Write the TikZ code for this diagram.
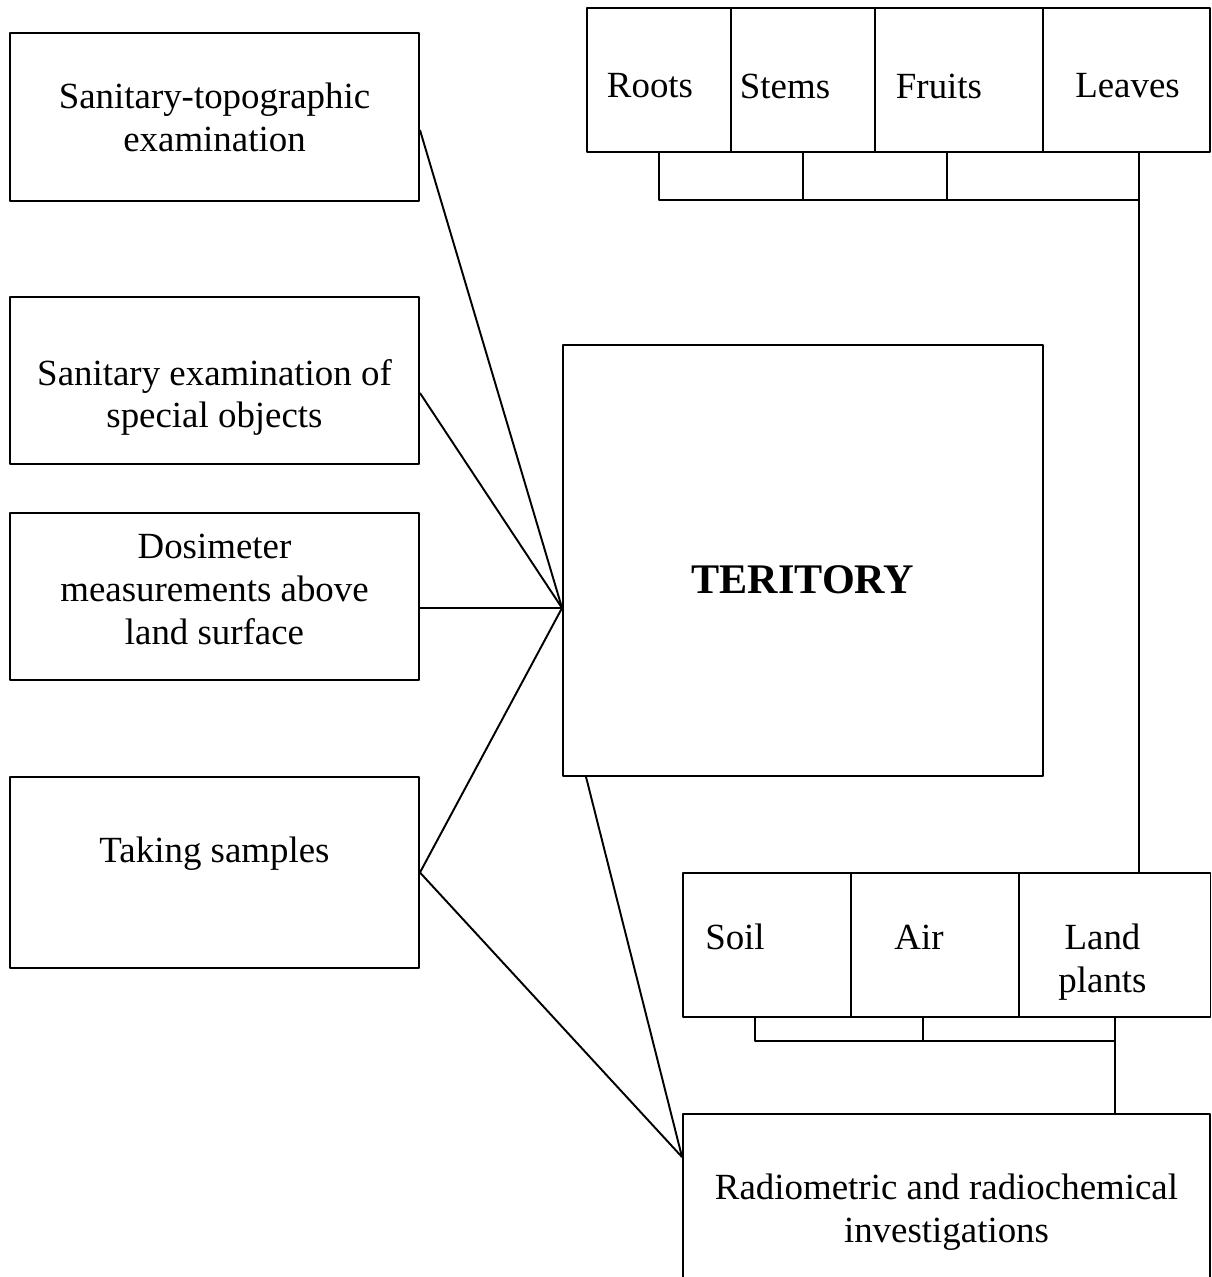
\documentclass[tikz,border=0pt]{standalone}
\usepackage{fontspec}
\setmainfont{Liberation Serif}
\begin{document}
\begin{tikzpicture}[x=0.02cm, y=-0.02cm, font=\fontsize{21}{24.4}\selectfont, line join=round, line width=1.1pt]
            \def\pxu{0.02cm}
            \tikzset{box/.style={draw, inner sep=0pt, align=center},
                     lbl/.style={inner sep=0pt, align=center}}
            \useasboundingbox (0,0) rectangle (1211,1277);
            \clip (0,0) rectangle (1211,1277);
            % left column
            \node[box, minimum width=409*\pxu, minimum height=168*\pxu] (sanitopo) at (214.5,117) {Sanitary-topographic\\examination};
            \node[box, minimum width=409*\pxu, minimum height=167*\pxu, label={[lbl, yshift=-17*\pxu]center:Sanitary examination of\\special objects}] (sanspec) at (214.5,380.5) {};
            \node[box, minimum width=409*\pxu, minimum height=167*\pxu, label={[lbl, yshift=7*\pxu]center:Dosimeter\\measurements above\\land surface}] (dosi) at (214.5,596.5) {};
            \node[box, minimum width=409*\pxu, minimum height=191*\pxu, label={[lbl, yshift=19*\pxu]center:Taking samples}] (taking) at (214.5,872.5) {};
            % centre
            \node[box, minimum width=480*\pxu, minimum height=431*\pxu, label={[lbl, yshift=-19*\pxu, font=\fontsize{24}{28}\selectfont\bfseries]center:TERITORY}] (teritory) at (803,560.5) {};
            % top row
            \node[box, minimum width=144*\pxu, minimum height=144*\pxu, label={[lbl, xshift=-9*\pxu, yshift=-6*\pxu]center:Roots}] (roots) at (659,80) {};
            \node[box, minimum width=144*\pxu, minimum height=144*\pxu, label={[lbl, xshift=-18*\pxu, yshift=-6*\pxu]center:Stems}] (stems) at (803,80) {};
            \node[box, minimum width=168*\pxu, minimum height=144*\pxu, label={[lbl, xshift=-20*\pxu, yshift=-6*\pxu]center:Fruits}] (fruits) at (959,80) {};
            \node[box, minimum width=167*\pxu, minimum height=144*\pxu, label={[lbl, xshift=1*\pxu, yshift=-6*\pxu]center:Leaves}] (leaves) at (1126.5,80) {};
            % bottom row
            \node[box, minimum width=168*\pxu, minimum height=144*\pxu, label={[lbl, xshift=-32*\pxu, yshift=8*\pxu]center:Soil}] (soil) at (767,945) {};
            \node[box, minimum width=168*\pxu, minimum height=144*\pxu, label={[lbl, xshift=-16*\pxu, yshift=8*\pxu]center:Air}] (air) at (935,945) {};
            \node[box, minimum width=191*\pxu, minimum height=144*\pxu, label={[lbl, xshift=-12.5*\pxu, yshift=-17*\pxu]center:Land\\plants}] (land) at (1115,945) {};
            \node[box, minimum width=527*\pxu, minimum height=197*\pxu] (radio) at (946.5,1212.5) {Radiometric and radiochemical\\investigations};
            % fan lines
            \coordinate (hub) at ([yshift=-47.5*\pxu]teritory.west);
            \coordinate (rin) at ([yshift=-44*\pxu]radio.north west);
            \draw ([yshift=-13*\pxu]sanitopo.east) -- (hub);
            \draw ([yshift=-12.5*\pxu]sanspec.east) -- (hub);
            \draw (dosi.east |- hub) -- (hub);
            \draw (hub) -- (taking.east) -- (rin);
            \draw ([xshift=24*\pxu]teritory.south west) -- (rin);
            % buses
            \coordinate (topbus) at (0,200);
            \coordinate (botbus) at (0,1041);
            \coordinate (fruitsdrop) at ([xshift=-12*\pxu]fruits.south);
            \coordinate (leavesdrop) at ([xshift=12.5*\pxu]leaves.south);
            \coordinate (soildrop) at ([xshift=-12*\pxu]soil.south);
            \coordinate (airdrop) at ([xshift=-12*\pxu]air.south);
            \draw (roots.south) |- (leavesdrop |- topbus);
            \draw (stems.south) -- (stems.south |- topbus);
            \draw (fruitsdrop) -- (fruitsdrop |- topbus);
            \draw (leavesdrop) -- (leavesdrop |- land.north);
            \draw (soildrop) |- (land.south |- botbus);
            \draw (airdrop) -- (airdrop |- botbus);
            \draw (land.south) -- (land.south |- radio.north);
        \end{tikzpicture}
\end{document}
